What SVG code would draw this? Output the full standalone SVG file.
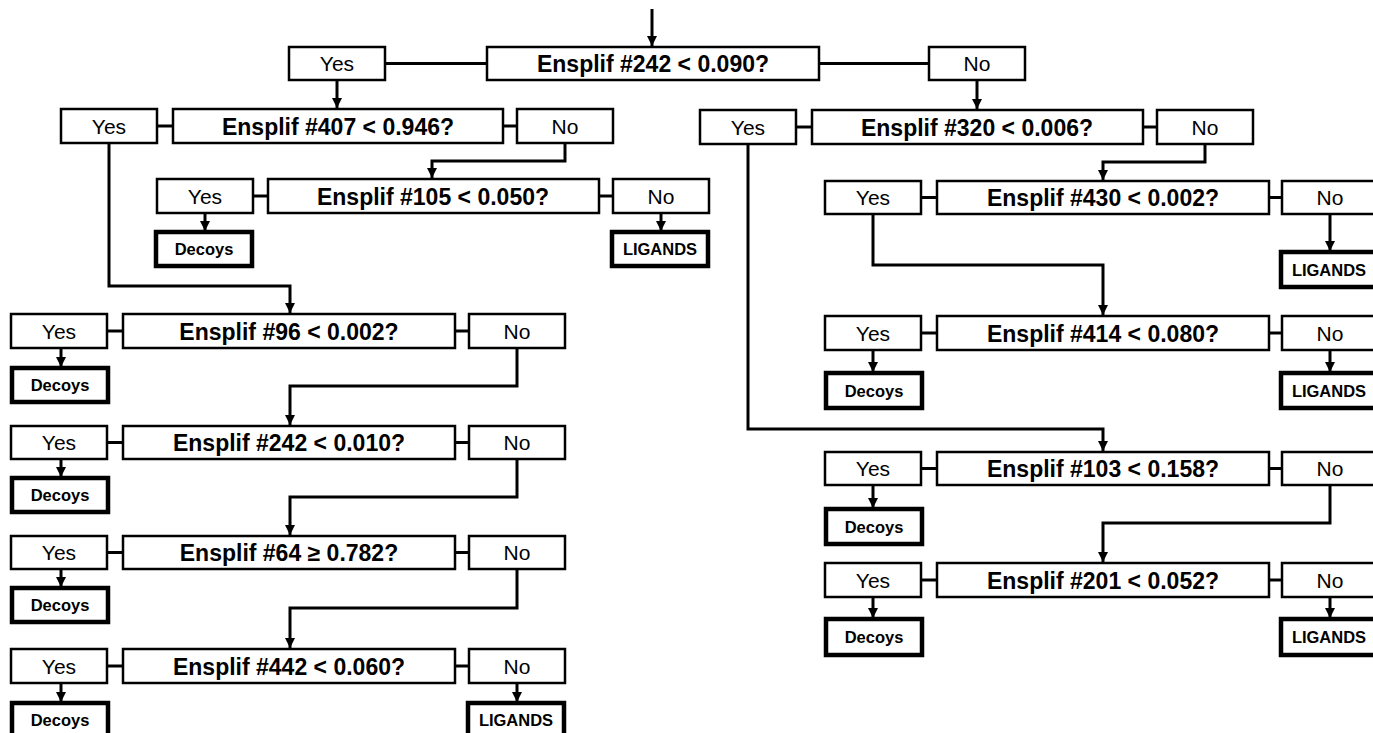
<svg xmlns="http://www.w3.org/2000/svg" width="1373" height="733" viewBox="0 0 1373 733">
<style>
.b{fill:#fff;stroke:#000;stroke-width:2.5}
.t{fill:#fff;stroke:#000;stroke-width:4.5}
.yn{font-family:"Liberation Sans",Arial,sans-serif;font-size:21px;text-anchor:middle;fill:#000}
.q{font-family:"Liberation Sans",Arial,sans-serif;font-size:23px;font-weight:bold;text-anchor:middle;fill:#000}
.r{font-family:"Liberation Sans",Arial,sans-serif;font-size:16.5px;font-weight:bold;text-anchor:middle;fill:#000}
.c{fill:none;stroke:#000;stroke-width:3}
</style>
<defs>
<marker id="ah" viewBox="0 0 10 10" refX="10" refY="5" markerWidth="10" markerHeight="10" markerUnits="userSpaceOnUse" orient="auto"><path d="M0,0 L10,5 L0,10 z" fill="#000"/></marker>
</defs>
<g id="connectors">
<path class="c" d="M652,9 V46" marker-end="url(#ah)"/>
<path class="c" d="M385,63.5 H487"/>
<path class="c" d="M819,63.5 H929"/>
<path class="c" d="M337,80 V108" marker-end="url(#ah)"/>
<path class="c" d="M977,80 V109" marker-end="url(#ah)"/>
<path class="c" d="M157,126 H173"/>
<path class="c" d="M503,126 H517"/>
<path class="c" d="M109,143 V286 H290 V313" marker-end="url(#ah)"/>
<path class="c" d="M565,143 V161 H432 V178" marker-end="url(#ah)"/>
<path class="c" d="M253,196 H268"/>
<path class="c" d="M599,196 H613"/>
<path class="c" d="M205,213 V231" marker-end="url(#ah)"/>
<path class="c" d="M661,213 V231" marker-end="url(#ah)"/>
<path class="c" d="M796,127 H812"/>
<path class="c" d="M1143,127 H1157"/>
<path class="c" d="M748,144 V429 H1103 V451" marker-end="url(#ah)"/>
<path class="c" d="M1205,144 V162 H1103 V180" marker-end="url(#ah)"/>
<path class="c" d="M921,197.5 H937"/>
<path class="c" d="M1269,197.5 H1282"/>
<path class="c" d="M873,214 V265 H1103 V315" marker-end="url(#ah)"/>
<path class="c" d="M1330,214 V251" marker-end="url(#ah)"/>
<path class="c" d="M921,333 H937"/>
<path class="c" d="M1269,333 H1282"/>
<path class="c" d="M873,350 V372" marker-end="url(#ah)"/>
<path class="c" d="M1330,350 V372" marker-end="url(#ah)"/>
<path class="c" d="M921,468.5 H937"/>
<path class="c" d="M1269,468.5 H1282"/>
<path class="c" d="M873,485 V508" marker-end="url(#ah)"/>
<path class="c" d="M1330,485 V523 H1103 V562" marker-end="url(#ah)"/>
<path class="c" d="M921,580 H937"/>
<path class="c" d="M1269,580 H1282"/>
<path class="c" d="M873,597 V618" marker-end="url(#ah)"/>
<path class="c" d="M1330,597 V618" marker-end="url(#ah)"/>
<path class="c" d="M107,331 H123"/>
<path class="c" d="M455,331 H469"/>
<path class="c" d="M61,348 V367" marker-end="url(#ah)"/>
<path class="c" d="M517,348 V386 H290 V425" marker-end="url(#ah)"/>
<path class="c" d="M107,442.5 H123"/>
<path class="c" d="M455,442.5 H469"/>
<path class="c" d="M61,459 V477" marker-end="url(#ah)"/>
<path class="c" d="M517,459 V497 H290 V535" marker-end="url(#ah)"/>
<path class="c" d="M107,552.5 H123"/>
<path class="c" d="M455,552.5 H469"/>
<path class="c" d="M61,569 V587" marker-end="url(#ah)"/>
<path class="c" d="M517,569 V608 H290 V648" marker-end="url(#ah)"/>
<path class="c" d="M107,666 H123"/>
<path class="c" d="M455,666 H469"/>
<path class="c" d="M61,683 V702" marker-end="url(#ah)"/>
<path class="c" d="M517,683 V702" marker-end="url(#ah)"/>
</g>
<g id="root-yes"><rect class="b" x="289" y="47" width="96" height="33"/><text class="yn" x="337" y="71">Yes</text></g>
<g id="root"><rect class="b" x="487" y="47" width="332" height="33"/><text class="q" x="653" y="72">Ensplif #242 &lt; 0.090?</text></g>
<g id="root-no"><rect class="b" x="929" y="47" width="96" height="33"/><text class="yn" x="977" y="71">No</text></g>

<g id="n407-yes"><rect class="b" x="61" y="109" width="96" height="34"/><text class="yn" x="109" y="133.5">Yes</text></g>
<g id="n407"><rect class="b" x="173" y="109" width="330" height="34"/><text class="q" x="338" y="134.5">Ensplif #407 &lt; 0.946?</text></g>
<g id="n407-no"><rect class="b" x="517" y="109" width="96" height="34"/><text class="yn" x="565" y="133.5">No</text></g>

<g id="n105-yes"><rect class="b" x="157" y="179" width="96" height="34"/><text class="yn" x="205" y="203.5">Yes</text></g>
<g id="n105"><rect class="b" x="268" y="179" width="331" height="34"/><text class="q" x="433" y="204.5">Ensplif #105 &lt; 0.050?</text></g>
<g id="n105-no"><rect class="b" x="613" y="179" width="96" height="34"/><text class="yn" x="661" y="203.5">No</text></g>
<g id="n105-decoys"><rect class="t" x="156" y="232" width="96" height="34"/><text class="r" x="204" y="255">Decoys</text></g>
<g id="n105-ligands"><rect class="t" x="612" y="232" width="96" height="34"/><text class="r" x="660" y="255">LIGANDS</text></g>

<g id="n320-yes"><rect class="b" x="700" y="110" width="96" height="34"/><text class="yn" x="748" y="134.5">Yes</text></g>
<g id="n320"><rect class="b" x="812" y="110" width="331" height="34"/><text class="q" x="977" y="135.5">Ensplif #320 &lt; 0.006?</text></g>
<g id="n320-no"><rect class="b" x="1157" y="110" width="96" height="34"/><text class="yn" x="1205" y="134.5">No</text></g>

<g id="n430-yes"><rect class="b" x="825" y="181" width="96" height="33"/><text class="yn" x="873" y="205">Yes</text></g>
<g id="n430"><rect class="b" x="937" y="181" width="332" height="33"/><text class="q" x="1103" y="206">Ensplif #430 &lt; 0.002?</text></g>
<g id="n430-no"><rect class="b" x="1282" y="181" width="96" height="33"/><text class="yn" x="1330" y="205">No</text></g>
<g id="n430-ligands"><rect class="t" x="1281" y="252" width="96" height="35"/><text class="r" x="1329" y="275.5">LIGANDS</text></g>

<g id="n414-yes"><rect class="b" x="825" y="316" width="96" height="34"/><text class="yn" x="873" y="340.5">Yes</text></g>
<g id="n414"><rect class="b" x="937" y="316" width="332" height="34"/><text class="q" x="1103" y="341.5">Ensplif #414 &lt; 0.080?</text></g>
<g id="n414-no"><rect class="b" x="1282" y="316" width="96" height="34"/><text class="yn" x="1330" y="340.5">No</text></g>
<g id="n414-decoys"><rect class="t" x="826" y="373" width="96" height="35"/><text class="r" x="874" y="396.5">Decoys</text></g>
<g id="n414-ligands"><rect class="t" x="1281" y="373" width="96" height="35"/><text class="r" x="1329" y="396.5">LIGANDS</text></g>

<g id="n103-yes"><rect class="b" x="825" y="452" width="96" height="33"/><text class="yn" x="873" y="476">Yes</text></g>
<g id="n103"><rect class="b" x="937" y="452" width="332" height="33"/><text class="q" x="1103" y="477">Ensplif #103 &lt; 0.158?</text></g>
<g id="n103-no"><rect class="b" x="1282" y="452" width="96" height="33"/><text class="yn" x="1330" y="476">No</text></g>
<g id="n103-decoys"><rect class="t" x="826" y="509" width="96" height="35"/><text class="r" x="874" y="532.5">Decoys</text></g>

<g id="n201-yes"><rect class="b" x="825" y="563" width="96" height="34"/><text class="yn" x="873" y="587.5">Yes</text></g>
<g id="n201"><rect class="b" x="937" y="563" width="332" height="34"/><text class="q" x="1103" y="588.5">Ensplif #201 &lt; 0.052?</text></g>
<g id="n201-no"><rect class="b" x="1282" y="563" width="96" height="34"/><text class="yn" x="1330" y="587.5">No</text></g>
<g id="n201-decoys"><rect class="t" x="826" y="619" width="96" height="36"/><text class="r" x="874" y="643">Decoys</text></g>
<g id="n201-ligands"><rect class="t" x="1281" y="619" width="96" height="36"/><text class="r" x="1329" y="643">LIGANDS</text></g>

<g id="n96-yes"><rect class="b" x="11" y="314" width="96" height="34"/><text class="yn" x="59" y="338.5">Yes</text></g>
<g id="n96"><rect class="b" x="123" y="314" width="332" height="34"/><text class="q" x="289" y="339.5">Ensplif #96 &lt; 0.002?</text></g>
<g id="n96-no"><rect class="b" x="469" y="314" width="96" height="34"/><text class="yn" x="517" y="338.5">No</text></g>
<g id="n96-decoys"><rect class="t" x="12" y="368" width="96" height="34"/><text class="r" x="60" y="391">Decoys</text></g>

<g id="n242b-yes"><rect class="b" x="11" y="426" width="96" height="33"/><text class="yn" x="59" y="450">Yes</text></g>
<g id="n242b"><rect class="b" x="123" y="426" width="332" height="33"/><text class="q" x="289" y="451">Ensplif #242 &lt; 0.010?</text></g>
<g id="n242b-no"><rect class="b" x="469" y="426" width="96" height="33"/><text class="yn" x="517" y="450">No</text></g>
<g id="n242b-decoys"><rect class="t" x="12" y="478" width="96" height="34"/><text class="r" x="60" y="501">Decoys</text></g>

<g id="n64-yes"><rect class="b" x="11" y="536" width="96" height="33"/><text class="yn" x="59" y="560">Yes</text></g>
<g id="n64"><rect class="b" x="123" y="536" width="332" height="33"/><text class="q" x="289" y="561">Ensplif #64 ≥ 0.782?</text></g>
<g id="n64-no"><rect class="b" x="469" y="536" width="96" height="33"/><text class="yn" x="517" y="560">No</text></g>
<g id="n64-decoys"><rect class="t" x="12" y="588" width="96" height="34"/><text class="r" x="60" y="611">Decoys</text></g>

<g id="n442-yes"><rect class="b" x="11" y="649" width="96" height="34"/><text class="yn" x="59" y="673.5">Yes</text></g>
<g id="n442"><rect class="b" x="123" y="649" width="332" height="34"/><text class="q" x="289" y="674.5">Ensplif #442 &lt; 0.060?</text></g>
<g id="n442-no"><rect class="b" x="469" y="649" width="96" height="34"/><text class="yn" x="517" y="673.5">No</text></g>
<g id="n442-decoys"><rect class="t" x="12" y="703" width="96" height="34"/><text class="r" x="60" y="726">Decoys</text></g>
<g id="n442-ligands"><rect class="t" x="468" y="703" width="96" height="34"/><text class="r" x="516" y="726">LIGANDS</text></g>
</svg>
